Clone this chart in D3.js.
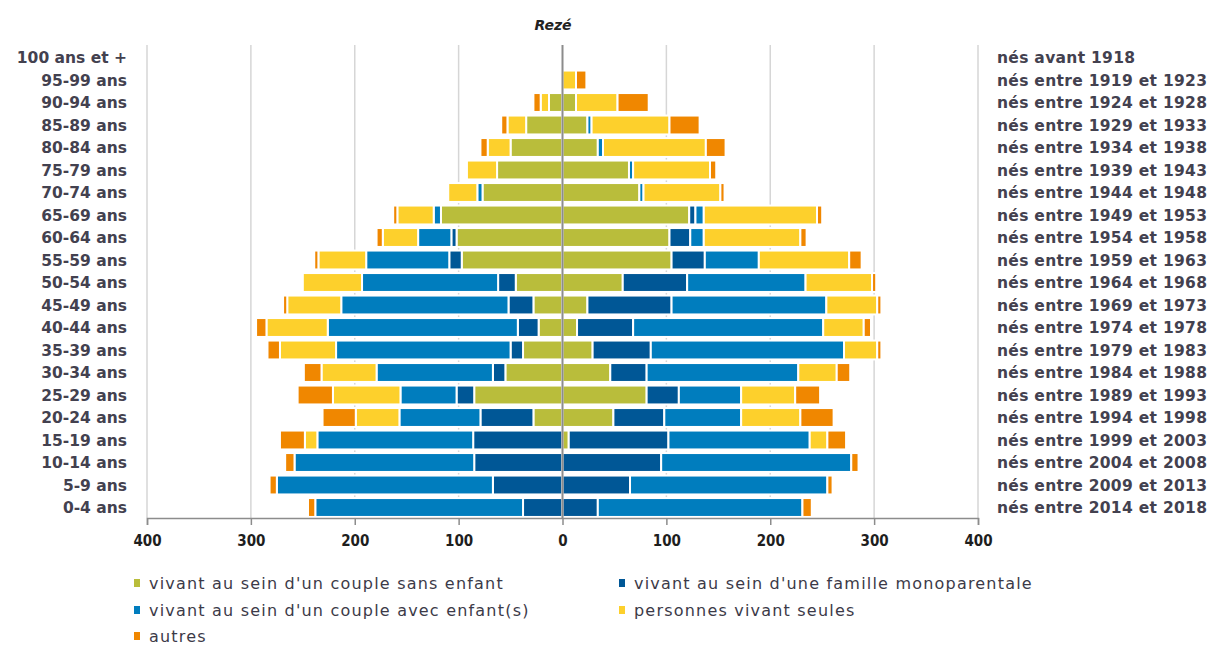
<!DOCTYPE html>
<html><head><meta charset="utf-8">
<script src="https://cdn.jsdelivr.net/npm/d3@7"></script>
<style>
html,body{margin:0;padding:0;background:#fff;}
svg{display:block;}
</style></head>
<body>
<svg id="chart" width="1211" height="645"></svg>
<script>
// ---- DATA (index 0 = "0-4 ans", last = "100 ans et +") ----
const ages = ["0-4 ans","5-9 ans","10-14 ans","15-19 ans","20-24 ans","25-29 ans","30-34 ans","35-39 ans","40-44 ans","45-49 ans","50-54 ans","55-59 ans","60-64 ans","65-69 ans","70-74 ans","75-79 ans","80-84 ans","85-89 ans","90-94 ans","95-99 ans","100 ans et +"];
const births = ["nés entre 2014 et 2018","nés entre 2009 et 2013","nés entre 2004 et 2008","nés entre 1999 et 2003","nés entre 1994 et 1998","nés entre 1989 et 1993","nés entre 1984 et 1988","nés entre 1979 et 1983","nés entre 1974 et 1978","nés entre 1969 et 1973","nés entre 1964 et 1968","nés entre 1959 et 1963","nés entre 1954 et 1958","nés entre 1949 et 1953","nés entre 1944 et 1948","nés entre 1939 et 1943","nés entre 1934 et 1938","nés entre 1929 et 1933","nés entre 1924 et 1928","nés entre 1919 et 1923","nés avant 1918"];
const seriesKeys = ["sansEnfant","monoparentale","avecEnfants","seules","autres"];
const seriesLabels = ["vivant au sein d'un couple sans enfant","vivant au sein d'une famille monoparentale","vivant au sein d'un couple avec enfant(s)","personnes vivant seules","autres"];
const seriesColors = ["#b9bd3b","#005796","#007dbe","#fdd02c","#f08700"];
// left side
const leftSansEnfant    = [0,0,0,0,28,85,55,38,23,28,45,97,102,117,77,63,50,35,13,0,0];
const leftMonoparentale = [38,67,85,86,51,17,12,12,20,24,17,12,5,0,0,0,0,0,0,0,0];
const leftAvecEnfants   = [200,208,173,150,78,54,112,168,183,161,131,80,32,7,5,0,0,0,0,0,0];
const leftSeules        = [0,0,0,12,42,65,53,54,59,52,57,46,34,35,28,29,22,18,8,0,0];
const leftAutres        = [7,7,9,24,32,34,17,12,10,4,0,4,6,4,0,0,7,6,7,0,0];
// right side
const rightSansEnfant    = [0,0,0,6,49,81,46,29,14,24,58,105,103,122,74,64,34,24,13,0,0];
const rightMonoparentale = [34,65,95,96,49,31,35,56,54,81,62,32,20,6,0,0,0,0,0,0,0];
const rightAvecEnfants   = [197,190,183,136,74,60,146,186,183,149,114,52,13,8,4,4,5,4,0,0,0];
const rightSeules        = [0,0,0,17,57,52,37,32,39,49,64,87,93,109,74,74,99,75,40,13,0];
const rightAutres        = [9,5,7,18,32,24,13,4,7,4,4,12,6,5,4,6,19,29,30,10,0];
const tickValues = [-400,-300,-200,-100,0,100,200,300,400];
const title = "Rezé";

// ---- build tables ----
function table(arrs){
  return ages.map((a,i)=>{
    const o={age:a};
    seriesKeys.forEach((k,j)=>o[k]=arrs[j][i]);
    return o;
  });
}
const leftData = table([leftSansEnfant,leftMonoparentale,leftAvecEnfants,leftSeules,leftAutres]);
const rightData = table([rightSansEnfant,rightMonoparentale,rightAvecEnfants,rightSeules,rightAutres]);

const svg = d3.select("#chart");
const x = d3.scaleLinear().domain([-400,400]).range([147,978]);
const y = d3.scaleBand().domain(ages.slice().reverse()).range([46.25,518.75]).paddingInner(0.16).paddingOuter(0.08);
const color = d3.scaleOrdinal().domain(seriesKeys).range(seriesColors);

// gridlines
svg.append("g").selectAll("line").data(tickValues.filter(d=>d!==0)).join("line")
  .attr("x1",d=>x(d)).attr("x2",d=>x(d)).attr("y1",45).attr("y2",518)
  .attr("stroke","#d6d6d6").attr("stroke-width",1.5);

// bars
const stack = d3.stack().keys(seriesKeys);
function drawSide(data, sign){
  const st = stack(data);
  const g = svg.append("g");
  st.forEach(layer=>{
    g.append("g").attr("fill",color(layer.key))
     .selectAll("rect").data(layer.filter(d=>d[1]-d[0]>0)).join("rect")
     .attr("x",d=> sign>0 ? x(d[0]) : x(-d[1]))
     .attr("width",d=> Math.abs(x(d[1])-x(d[0])))
     .attr("y",d=>y(d.data.age))
     .attr("height",y.bandwidth())
     .attr("stroke","#fff").attr("stroke-width",2);
  });
}
drawSide(leftData,-1);
drawSide(rightData,1);

// center line
svg.append("line").attr("x1",x(0)).attr("x2",x(0)).attr("y1",45).attr("y2",518)
  .attr("stroke","#8c8c8c").attr("stroke-width",2);

// axis
const axis = svg.append("g").attr("transform","translate(0,518)")
  .call(d3.axisBottom(x).tickValues(tickValues).tickFormat(d=>Math.abs(d)).tickSize(7).tickPadding(10));
axis.select(".domain").attr("stroke","#8c8c8c").attr("stroke-width",1.5);
axis.selectAll(".tick line").attr("stroke","#8c8c8c").attr("stroke-width",1.5);
axis.selectAll("text").attr("font-family","'Liberation Sans Narrow','DejaVu Sans Condensed',sans-serif")
  .attr("font-weight","bold").attr("font-size",15).attr("fill","#1e1e1e");

// age labels
svg.append("g").selectAll("text").data(ages).join("text")
  .attr("x",127).attr("y",d=>y(d)+y.bandwidth()/2).attr("dy","0.36em")
  .attr("text-anchor","end").attr("font-family","'DejaVu Sans',sans-serif")
  .attr("font-size",15.5).attr("font-weight","bold").attr("fill","#43414f")
  .text(d=>d);

// birth labels
svg.append("g").selectAll("text").data(ages).join("text")
  .attr("x",997).attr("y",d=>y(d)+y.bandwidth()/2).attr("dy","0.36em")
  .attr("font-family","'DejaVu Sans',sans-serif").attr("letter-spacing","0.3px")
  .attr("font-size",15.5).attr("font-weight","bold").attr("fill","#43414f")
  .text((d,i)=>births[i]);

// title
svg.append("text").attr("x",553).attr("y",30).attr("text-anchor","middle")
  .attr("font-family","'DejaVu Sans',sans-serif").attr("font-style","italic").attr("font-weight","bold")
  .attr("font-size",14).attr("fill","#222").text(title);

// legend: col1 row1 sans enfant, col2 row1 monoparentale, col1 row2 avec enfants, col2 row2 seules, row3 autres
const legPos = [[134,583],[619,583],[134,610],[619,610],[134,636]];
const legendItems = [0,1,2,3,4];
const lg = svg.append("g").selectAll("g").data(legendItems).join("g")
  .attr("transform",(d,i)=>`translate(${legPos[i][0]},${legPos[i][1]})`);
lg.append("rect").attr("x",0).attr("y",-4).attr("width",6).attr("height",8)
  .attr("fill",d=>seriesColors[d]);
lg.append("text").attr("x",15).attr("dy","0.35em")
  .attr("font-family","'DejaVu Sans',sans-serif").attr("font-size",16).attr("letter-spacing","1.2px")
  .attr("fill","#3c3a48").text(d=>seriesLabels[d]);
</script>
</body></html>
